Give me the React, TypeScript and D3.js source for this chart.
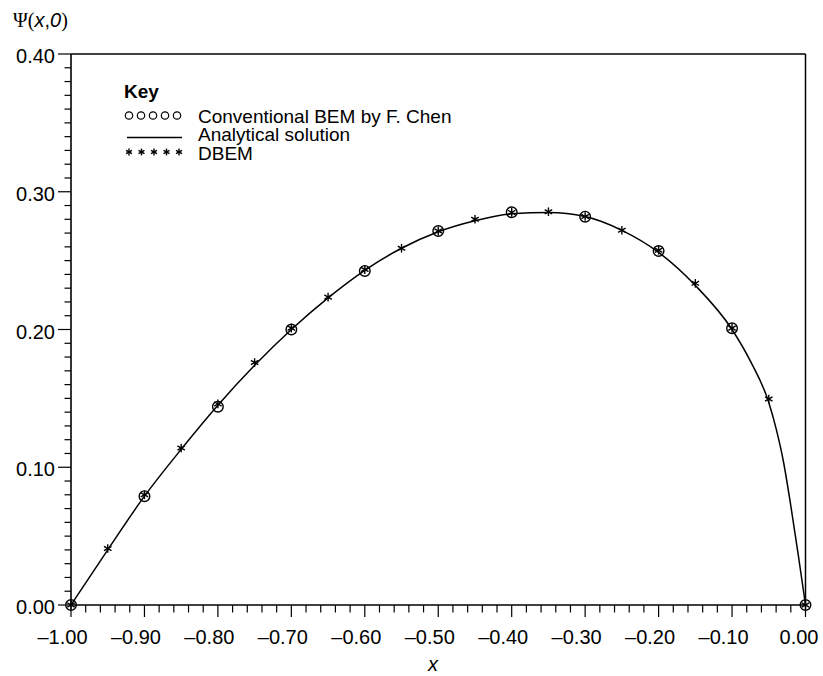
import React from "react";
import * as d3 from "d3";

// ---- data ----
const analyticalX = [-1.0, -0.95, -0.9, -0.85, -0.8, -0.75, -0.7, -0.65, -0.6, -0.55, -0.5, -0.45, -0.4, -0.35, -0.3, -0.25, -0.2, -0.15, -0.1, -0.075, -0.05, -0.04, -0.03, -0.02, -0.01, 0.0];
const analyticalY = [0.0, 0.040, 0.079, 0.113, 0.145, 0.174, 0.200, 0.223, 0.243, 0.259, 0.271, 0.279, 0.284, 0.285, 0.282, 0.272, 0.256, 0.232, 0.200, 0.177, 0.147, 0.128, 0.104, 0.072, 0.037, 0.0];

const conventionalX = [-1.0, -0.9, -0.8, -0.7, -0.6, -0.5, -0.4, -0.3, -0.2, -0.1, 0.0];
const conventionalY = [0.0, 0.079, 0.144, 0.200, 0.2425, 0.2715, 0.2851, 0.2819, 0.257, 0.2009, 0.0];

const dbemX = [-1.0, -0.95, -0.9, -0.85, -0.8, -0.75, -0.7, -0.65, -0.6, -0.55, -0.5, -0.45, -0.4, -0.35, -0.3, -0.25, -0.2, -0.15, -0.1, -0.05, 0.0];
const dbemY = [0.0, 0.041, 0.080, 0.114, 0.146, 0.176, 0.201, 0.2235, 0.2435, 0.259, 0.2715, 0.280, 0.285, 0.2855, 0.282, 0.272, 0.2575, 0.2335, 0.201, 0.1495, 0.0];

const xTickValues = [-1.0, -0.9, -0.8, -0.7, -0.6, -0.5, -0.4, -0.3, -0.2, -0.1, 0.0];
const xTickLabels = ["\u20131.00", "\u20130.90", "\u20130.80", "\u20130.70", "\u20130.60", "\u20130.50", "\u20130.40", "\u20130.30", "\u20130.20", "\u20130.10", "0.00"];
const yTickValues = [0.0, 0.1, 0.2, 0.3, 0.4];
const yTickLabels = ["0.00", "0.10", "0.20", "0.30", "0.40"];

const legendLabels = ["Conventional BEM by F. Chen", "Analytical solution", "DBEM"];
const legendTitle = "Key";

// ---- layout ----
const W = 823;
const H = 676;
const left = 71;
const right = 805.5;
const top = 54;
const bottom = 605;
const FONT = "'Liberation Sans', Arial, Helvetica, sans-serif";
const SERIF = "'Liberation Serif', 'Times New Roman', serif";

const x = d3.scaleLinear().domain([-1, 0]).range([left, right]);
const y = d3.scaleLinear().domain([0, 0.4]).range([bottom, top]);

function Star({ cx, cy, s = 4.3 }: { cx: number; cy: number; s?: number }) {
  const a = s * Math.cos(Math.PI / 6);
  const b = s * Math.sin(Math.PI / 6);
  return (
    <g stroke="#000" strokeWidth={1.4}>
      <line x1={cx} y1={cy - s} x2={cx} y2={cy + s} />
      <line x1={cx - a} y1={cy - b} x2={cx + a} y2={cy + b} />
      <line x1={cx - a} y1={cy + b} x2={cx + a} y2={cy - b} />
    </g>
  );
}

export default function App() {
  const line = d3
    .line<number>()
    .x((_, i) => x(analyticalX[i]))
    .y((d) => y(d))
    .curve(d3.curveMonotoneX);

  const xMinor = d3.range(0, 51).map((i) => -1 + i * 0.02);
  const yMinor = d3.range(0, 41).map((i) => i * 0.01);

  const legX = 124;
  const rowY = [116, 134.5, 153];

  return (
    <svg
      width={W}
      height={H}
      style={{ position: "absolute", left: 0, top: 0, background: "#fff" }}
      fontFamily={FONT}
    >
      <rect x={0} y={0} width={W} height={H} fill="#fff" />
      {/* frame */}
      <line x1={left} y1={top} x2={right} y2={top} stroke="#000" strokeWidth={1.5} />
      <line x1={right} y1={top} x2={right} y2={bottom} stroke="#000" strokeWidth={1.5} />
      <line x1={left} y1={bottom} x2={right} y2={bottom} stroke="#000" strokeWidth={1.6} />
      <line x1={left} y1={top} x2={left} y2={bottom} stroke="#000" strokeWidth={1.6} />

      {/* x ticks */}
      {xMinor.map((v, i) => (
        <line
          key={"xm" + i}
          x1={x(v)}
          x2={x(v)}
          y1={bottom}
          y2={bottom + (i % 5 === 0 ? 12 : 7.5)}
          stroke="#000"
          strokeWidth={1.2}
        />
      ))}
      {xTickValues.map((v, i) => (
        <text
          key={"xl" + i}
          x={x(v) - (v === 0 ? 6.5 : 8.5)}
          y={bottom + 38.5}
          textAnchor="middle"
          fontSize={20}
          fill="#000"
        >
          {xTickLabels[i]}
        </text>
      ))}

      {/* y ticks */}
      {yMinor.map((v, i) => (
        <line
          key={"ym" + i}
          x1={left}
          x2={left - (i % 10 === 0 ? 13 : 6.5)}
          y1={y(v)}
          y2={y(v)}
          stroke="#000"
          strokeWidth={1.2}
        />
      ))}
      {yTickValues.map((v, i) => (
        <text
          key={"yl" + i}
          x={55}
          y={y(v) + 9}
          textAnchor="end"
          fontSize={20}
          fill="#000"
        >
          {yTickLabels[i]}
        </text>
      ))}

      {/* axis titles */}
      <text x={13} y={27} fontSize={20} fill="#000">
        <tspan fontFamily={SERIF}>Ψ</tspan>
        <tspan fontFamily={SERIF}>(</tspan>
        <tspan fontStyle="italic">x</tspan>
        <tspan>,</tspan>
        <tspan fontStyle="italic">0</tspan>
        <tspan fontFamily={SERIF}>)</tspan>
      </text>
      <text x={433} y={671} fontSize={20} fontStyle="italic" textAnchor="middle" fill="#000">
        x
      </text>

      {/* analytical curve */}
      <path d={line(analyticalY) || ""} fill="none" stroke="#000" strokeWidth={1.5} />

      {/* conventional BEM circles */}
      {conventionalX.map((v, i) => (
        <circle
          key={"c" + i}
          cx={x(v)}
          cy={y(conventionalY[i])}
          r={5.3}
          fill="none"
          stroke="#000"
          strokeWidth={1.4}
        />
      ))}
      {/* DBEM stars */}
      {dbemX.map((v, i) => (
        <Star key={"s" + i} cx={x(v)} cy={y(dbemY[i])} />
      ))}

      {/* legend */}
      <text x={legX} y={98} fontSize={19} fontWeight="bold" fill="#000">
        {legendTitle}
      </text>
      {d3.range(5).map((k) => (
        <circle
          key={"lc" + k}
          cx={legX + 5 + k * 12}
          cy={rowY[0] - 0.5}
          r={3.7}
          fill="none"
          stroke="#000"
          strokeWidth={1.2}
        />
      ))}
      <line x1={legX + 3} x2={legX + 58} y1={rowY[1] + 3} y2={rowY[1] + 3} stroke="#000" strokeWidth={1.3} />
      {d3.range(5).map((k) => (
        <Star key={"ls" + k} cx={legX + 5 + k * 12.5} cy={rowY[2] - 1} s={3.4} />
      ))}
      {legendLabels.map((t, i) => (
        <text key={"lt" + i} x={198} y={rowY[i] + 6.5} fontSize={19} fill="#000">
          {t}
        </text>
      ))}
    </svg>
  );
}
